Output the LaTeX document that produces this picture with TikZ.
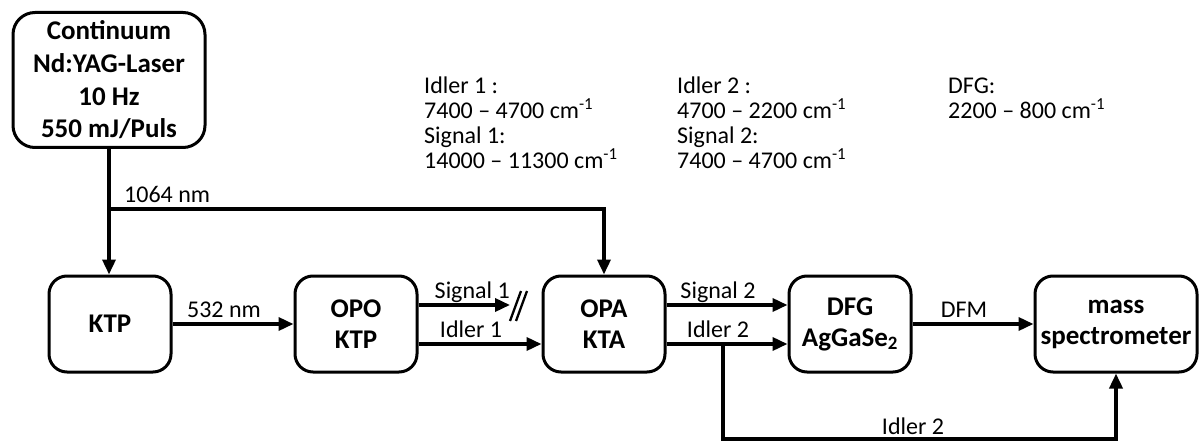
\documentclass[tikz,border=0pt]{standalone}
\usepackage{fontspec}
\setmainfont{Carlito}
\usetikzlibrary{arrows.meta}
\begin{document}
\begin{tikzpicture}[x=1pt,y=-1pt,
  box/.style={draw,line width=3pt,rounded corners=18pt,align=center,
    font=\fontsize{27}{31}\selectfont\bfseries,inner sep=0pt,
    minimum width=122pt,minimum height=96pt},
  beam/.style={line width=3.5pt,-{Triangle[length=15pt,width=13pt]}},
  lbl/.style={font=\fontsize{24}{25}\selectfont,inner sep=0pt},
  edgelbl/.style={lbl,midway,anchor=base,yshift=7pt,xshift=-9pt},
]
\useasboundingbox (0,0) rectangle (1200,441);

% laser source and optical stages
\node[box,rounded corners=22pt,minimum width=192pt,minimum height=135pt,
      font=\fontsize{27}{32.7}\selectfont\bfseries] (laser) at (109,80)
  {Continuum\\Nd:YAG-Laser\\10 Hz\\550 mJ/Puls};
\node[box] (ktp)  at (110,324)  {KTP};
\node[box] (opo)  at (356,324)  {OPO\\KTP};
\node[box] (opa)  at (604,324)  {OPA\\KTA};
\node[box] (dfg)  at (850,324)  {DFG\\AgGaSe\textsubscript{2}};
\node[box,minimum width=162pt] (mass) at (1116,324) {mass\\spectrometer};

% tuning ranges
\node[lbl,anchor=base west] (i1a) at (424,94)  {Idler 1 :};
\node[lbl,anchor=base west] (i1b) at (424,119) {7400 – 4700 cm\textsuperscript{-1}};
\node[lbl,anchor=base west] (s1a) at (424,144) {Signal 1:};
\node[lbl,anchor=base west] (s1b) at (424,169) {14000 – 11300 cm\textsuperscript{-1}};
\node[lbl,anchor=base west] (i2a) at (677,94)  {Idler 2 :};
\node[lbl,anchor=base west] (i2b) at (677,119) {4700 – 2200 cm\textsuperscript{-1}};
\node[lbl,anchor=base west] (s2a) at (677,144) {Signal 2:};
\node[lbl,anchor=base west] (s2b) at (677,169) {7400 – 4700 cm\textsuperscript{-1}};
\node[lbl,anchor=base west] (dfa) at (948,94)  {DFG:};
\node[lbl,anchor=base west] (dfb) at (948,119) {2200 – 800 cm\textsuperscript{-1}};

% beam rows
\coordinate (ys) at (0,305);
\coordinate (yi) at (0,344);
\coordinate (ysplit) at (0,209);
\coordinate (split) at (laser.south |- ysplit);

% 1064 nm pump
\draw[beam] (laser.south) -- (laser.south |- ktp.north);
\draw[beam] (split) -| (opa.north);
\node[lbl,anchor=base west] (l1064) at (124,202) {1064 nm};

% 532 nm
\draw[beam] (ktp) -- (opo) node[edgelbl] {532 nm};

% OPO outputs
\coordinate (s1end) at (510,305);
\draw[beam] (opo.east |- ys) -- (s1end) node[edgelbl,xshift=17pt] {Signal 1};
\draw[line width=2.3pt] (510,321) -- (521,291);
\draw[line width=2.3pt] (516,321) -- (527,291);
\draw[beam] (opo.east |- yi) -- (opa.west |- yi) node[edgelbl] {Idler 1};

% OPA outputs
\draw[beam] (opa.east |- ys) -- (dfg.west |- ys) node[edgelbl] {Signal 2};
\draw[beam] (opa.east |- yi) -- (dfg.west |- yi) node[edgelbl] {Idler 2};

% DFG output
\draw[beam] (dfg) -- (mass) node[edgelbl] {DFM};

% idler 2 bypass
\coordinate (br) at (723,344);
\coordinate (low) at (723,439);
\draw[beam] (br) -- (low) -| (mass.south);
\node[lbl,anchor=base] (l2b) at (913,434) {Idler 2};
\end{tikzpicture}
\end{document}
